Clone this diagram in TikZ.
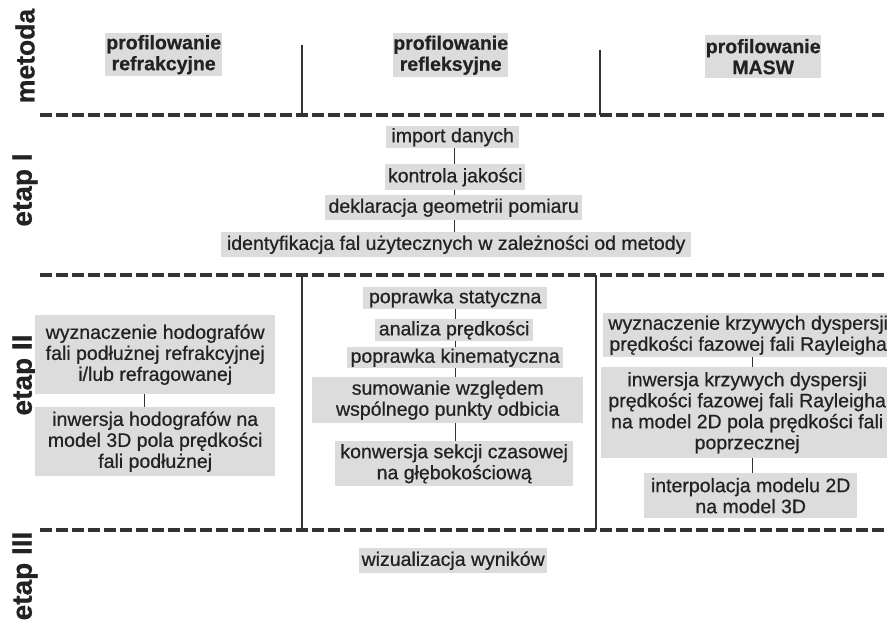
\documentclass[tikz,border=0pt]{standalone}
\usepackage{fontspec}
\setmainfont{Liberation Sans}[FakeBold=0.6]
\definecolor{boxgray}{HTML}{DCDCDC}
\definecolor{txt}{HTML}{222222}
\definecolor{linec}{HTML}{333333}
\begin{document}
\begin{tikzpicture}[x=1pt,y=-1pt,
  box/.style={fill=boxgray, text=txt, inner sep=0pt, anchor=north west, align=center,
              font=\fontsize{19.5}{21}\selectfont},
  hbox/.style={box, font=\bfseries\fontsize{19.5}{21}\selectfont},
  lbl/.style={rotate=90, inner sep=0pt, text=txt, font=\bfseries\fontsize{28}{30}\selectfont},
  sep/.style={draw=linec, line width=3.5pt, dash pattern=on 12pt off 4pt},
  vline/.style={draw=linec, line width=1.2pt},
  conn/.style={draw=linec, line width=0.9pt}]
\useasboundingbox (0,0) rectangle (887,620);

% row labels
\node[lbl, font=\bfseries\fontsize{26.5}{30}\selectfont] (lm) at (25,56) {metoda};
\node[lbl] (l1lab) at (25,190) {etap I};
\node[lbl] (l2lab) at (25,375) {etap II};
\node[lbl] (l3lab) at (25,576) {etap III};

% dashed separators
\coordinate (d1l) at (40,115);  \coordinate (d1r) at (890,115);
\coordinate (d2l) at (40,275);  \coordinate (d2r) at (890,275);
\coordinate (d3l) at (40,530);  \coordinate (d3r) at (890,530);
\draw[sep] (d1l) -- (d1r);
\draw[sep] (d2l) -- (d2r);
\draw[sep] (d3l) -- (d3r);

% vertical column separators
\coordinate (v1a) at (302,45);  \coordinate (v2a) at (600,50);
\coordinate (v1b) at (302,275); \coordinate (v2b) at (596,275);
\draw[vline] (v1a) -- (v1a |- d1l);
\draw[vline] (v2a) -- (v2a |- d1l);
\draw[vline] (v1b) -- (v1b |- d3l);
\draw[vline] (v2b) -- (v2b |- d3l);

% methods
\node[hbox, minimum width=117pt, minimum height=43pt] (m1) at (105,33) {profilowanie\\refrakcyjne};
\node[hbox, minimum width=115pt, minimum height=44pt] (m2) at (393,33) {profilowanie\\refleksyjne};
\node[hbox, minimum width=116pt, minimum height=43pt] (m3) at (705,35) {profilowanie\\MASW};

% etap I
\node[box, minimum width=133pt, minimum height=22pt] (e1) at (386,126) {import danych};
\node[box, minimum width=140pt, minimum height=26pt] (e2) at (385,164) {kontrola jakości};
\node[box, minimum width=257pt, minimum height=25pt] (e3) at (325,195) {deklaracja geometrii pomiaru};
\node[box, minimum width=470pt, minimum height=25pt] (e4) at (221,232) {identyfikacja fal użytecznych w zależności od metody};
\coordinate (cx1) at (454,0);
\draw[conn] (e1.south -| cx1) -- (e2.north -| cx1);
\draw[conn] (e2.south -| cx1) -- (e3.north -| cx1);
\draw[conn] (e3.south -| cx1) -- (e4.north -| cx1);

% etap II left
\node[box, minimum width=240pt, minimum height=79pt] (a1) at (35,315) {wyznaczenie hodografów\\fali podłużnej refrakcyjnej\\i/lub refragowanej};
\node[box, minimum width=240pt, minimum height=69pt] (a2) at (35,407) {inwersja hodografów na\\model 3D pola prędkości\\fali podłużnej};
\coordinate (cxa) at (144,0);
\draw[conn] (a1.south -| cxa) -- (a2.north -| cxa);

% etap II middle
\node[box, minimum width=184pt, minimum height=22pt] (b1) at (363,287) {poprawka statyczna};
\node[box, minimum width=158pt, minimum height=22pt] (b2) at (375,319) {analiza prędkości};
\node[box, minimum width=216pt, minimum height=21pt] (b3) at (347,347) {poprawka kinematyczna};
\node[box, minimum width=271pt, minimum height=46pt] (b4) at (312,377) {sumowanie względem\\wspólnego punkty odbicia};
\node[box, minimum width=238pt, minimum height=45pt] (b5) at (335,441) {konwersja sekcji czasowej\\na głębokościową};
\coordinate (cxb) at (455,0);
\draw[conn] (b1.south -| cxb) -- (b2.north -| cxb);
\draw[conn] (b2.south -| cxb) -- (b3.north -| cxb);
\draw[conn] (b3.south -| cxb) -- (b4.north -| cxb);
\draw[conn] (b4.south -| cxb) -- (b5.north -| cxb);

% etap II right
\node[box, minimum width=290pt, minimum height=44pt] (c1) at (603,313) {wyznaczenie krzywych dyspersji\\prędkości fazowej fali Rayleigha};
\node[box, minimum width=292pt, minimum height=91pt] (c2) at (601,367) {inwersja krzywych dyspersji\\prędkości fazowej fali Rayleigha\\na model 2D pola prędkości fali\\poprzecznej};
\node[box, minimum width=213pt, minimum height=45pt] (c3) at (644,473) {interpolacja modelu 2D\\na model 3D};
\coordinate (cxc) at (752,0);
\draw[conn] (c1.south -| cxc) -- (c2.north -| cxc);
\draw[conn] (c2.south -| cxc) -- (c3.north -| cxc);

% etap III
\node[box, minimum width=188pt, minimum height=25pt] (w1) at (359,548) {wizualizacja wyników};
\end{tikzpicture}
\end{document}
